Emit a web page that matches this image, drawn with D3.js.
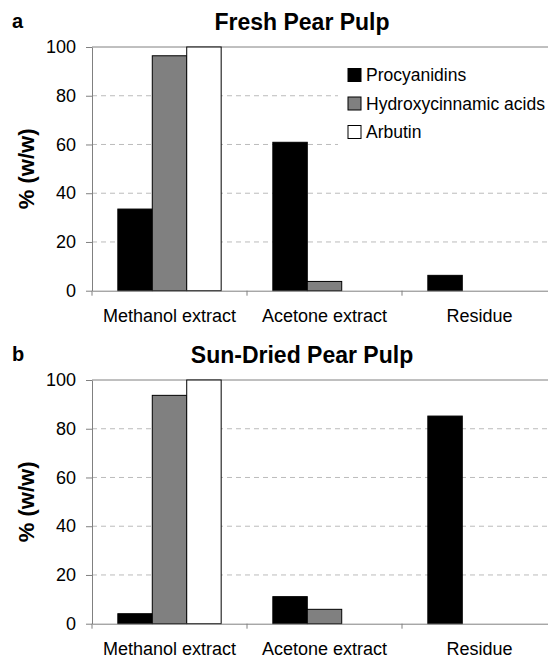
<!DOCTYPE html>
<html>
<head>
<meta charset="utf-8">
<script src="https://cdn.jsdelivr.net/npm/d3@7"></script>
<style>
  body { margin: 0; background: #fff; }
  text { font-family: "Liberation Sans", Arial, sans-serif; fill: #000; }
</style>
</head>
<body>
<script>
// categories and series
const categories = ["Methanol extract", "Acetone extract", "Residue"];
const seriesNames = ["Procyanidins", "Hydroxycinnamic acids", "Arbutin"];
const seriesColors = ["#000000", "#808080", "#ffffff"];

// panel a: fresh pear pulp (% w/w per fraction)
const freshProcyanidins = [33.5, 60.9, 6.3];
const freshHydroxycinnamic = [96.4, 3.8, 0];
const freshArbutin = [100, 0, 0];

// panel b: sun-dried pear pulp
const driedProcyanidins = [4.1, 11.1, 85.2];
const driedHydroxycinnamic = [93.7, 5.9, 0];
const driedArbutin = [100, 0, 0];

const yTicks = [0, 20, 40, 60, 80, 100];
const gridTicks = [20, 40, 60, 80];

const width = 548, height = 660;
const axisColor = "#808080";

var svg = d3.select("body").append("svg")
    .attr("width", width)
    .attr("height", height);

var x = d3.scaleBand()
    .domain(categories)
    .range([92, 557]);

var xSub = d3.scaleBand()
    .domain(seriesNames)
    .range([0, x.bandwidth()])
    .paddingOuter(0.75);

function drawPanel(top, series, title, letter, showLegend) {
  var g = svg.append("g").attr("transform", `translate(0,${top})`);
  var y = d3.scaleLinear().domain([0, 100]).range([290.7, 47]);

  // dashed gridlines
  g.selectAll("line.grid")
    .data(gridTicks)
    .join("line")
      .attr("class", "grid")
      .attr("x1", 92).attr("x2", width)
      .attr("y1", d => y(d)).attr("y2", d => y(d))
      .style("stroke", "#bcbcbc")
      .style("stroke-dasharray", "5,4");

  // top border of the plot area
  g.append("line")
    .attr("x1", 92).attr("x2", width)
    .attr("y1", y(100)).attr("y2", y(100))
    .style("stroke", axisColor);

  // legend box hides the grid behind it
  if (showLegend) {
    g.append("rect")
      .attr("x", 338).attr("y", 58)
      .attr("width", 220).attr("height", 92)
      .style("fill", "#fff");
  }

  // bars
  var rows = [];
  categories.forEach((c, i) => {
    seriesNames.forEach((s, j) => {
      if (series[j][i] > 0) rows.push({cat: c, name: s, color: seriesColors[j], value: series[j][i]});
    });
  });

  g.selectAll("rect.bar")
    .data(rows)
    .join("rect")
      .attr("class", "bar")
      .attr("x", d => x(d.cat) + xSub(d.name))
      .attr("width", xSub.bandwidth())
      .attr("y", d => y(d.value))
      .attr("height", d => y(0) - y(d.value))
      .style("fill", d => d.color)
      .style("stroke", "#000")
      .style("stroke-width", 1);

  // y axis
  var yAxis = g.append("g")
      .attr("transform", "translate(92,0)")
      .call(d3.axisLeft(y).tickValues(yTicks).tickSize(6).tickSizeOuter(0).tickPadding(10));
  yAxis.selectAll("text").style("font-size", "18px");

  // x axis, labels centred under bands
  var xAxis = g.append("g")
      .attr("transform", `translate(0,${y(0)})`)
      .call(d3.axisBottom(x).tickSize(0).tickSizeOuter(0).tickPadding(19));
  xAxis.selectAll("text").style("font-size", "18px");

  // category boundary ticks
  g.selectAll("line.ctick")
    .data(categories)
    .join("line")
      .attr("class", "ctick")
      .attr("x1", d => x(d)).attr("x2", d => x(d))
      .attr("y1", y(0)).attr("y2", y(0) + 5)
      .style("stroke", axisColor);

  g.selectAll(".domain, .tick line").style("stroke", axisColor);

  // titles
  g.append("text")
    .attr("x", 302).attr("y", 29.5)
    .attr("text-anchor", "middle")
    .style("font-size", "23px")
    .style("font-weight", "bold")
    .text(title);

  g.append("text")
    .attr("x", 12).attr("y", 28)
    .style("font-size", "20px")
    .style("font-weight", "bold")
    .text(letter);

  g.append("text")
    .attr("transform", `translate(34,${(y(0) + y(100)) / 2}) rotate(-90)`)
    .attr("text-anchor", "middle")
    .style("font-size", "22px")
    .style("font-weight", "bold")
    .text("% (w/w)");

  if (showLegend) {
    var leg = g.selectAll("g.legend")
      .data(seriesNames)
      .join("g")
        .attr("class", "legend")
        .attr("transform", (d, i) => `translate(348,${75 + i * 28.5})`);
    leg.append("rect")
      .attr("x", 0).attr("y", -6.5)
      .attr("width", 13).attr("height", 13)
      .style("fill", (d, i) => seriesColors[i])
      .style("stroke", "#000");
    leg.append("text")
      .attr("x", 18).attr("dy", "0.35em")
      .style("font-size", "17.5px")
      .text(d => d);
  }
}

drawPanel(0, [freshProcyanidins, freshHydroxycinnamic, freshArbutin], "Fresh Pear Pulp", "a", true);
drawPanel(333, [driedProcyanidins, driedHydroxycinnamic, driedArbutin], "Sun-Dried Pear Pulp", "b", false);
</script>
</body>
</html>
